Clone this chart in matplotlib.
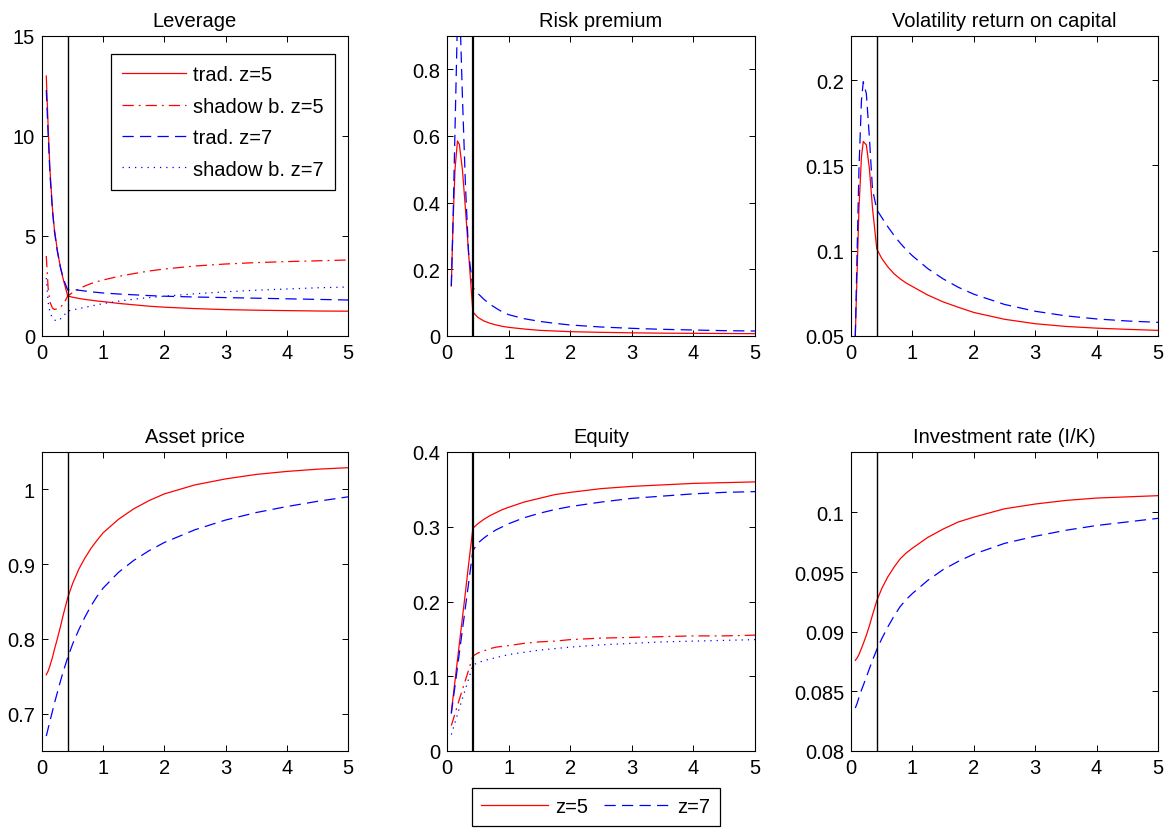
import matplotlib
matplotlib.use("Agg")
import matplotlib.pyplot as plt
from matplotlib.ticker import FuncFormatter

plt.rcParams["font.family"] = ["Liberation Sans", "DejaVu Sans"]
FS = 14.5
plt.rcParams["font.size"] = FS

# wealth share grid (common to all series)
x = [0.07, 0.1, 0.13, 0.17, 0.2, 0.25, 0.3, 0.35, 0.42, 0.5, 0.6, 0.7, 0.8, 0.9,
     1.0, 1.25, 1.5, 1.75, 2.0, 2.5, 3.0, 3.5, 4.0, 4.5, 5.0]
x_cut = 0.42

# Leverage
lev_trad5 = [13.0, 10.5, 8.3, 6.4, 5.4, 4.3, 3.45, 2.8, 2.0, 1.94, 1.88, 1.83, 1.79, 1.75,
             1.72, 1.63, 1.56, 1.49, 1.44, 1.37, 1.32, 1.29, 1.27, 1.25, 1.24]
lev_shadow5 = [4.0, 2.4, 1.7, 1.4, 1.33, 1.35, 1.45, 1.58, 2.0, 2.17, 2.35, 2.5, 2.62, 2.72,
               2.8, 2.98, 3.12, 3.25, 3.35, 3.5, 3.6, 3.67, 3.72, 3.76, 3.8]
lev_trad7 = [12.3, 10.1, 8.1, 6.3, 5.3, 4.25, 3.45, 2.85, 2.3, 2.33, 2.29, 2.25, 2.21, 2.18,
             2.15, 2.1, 2.06, 2.02, 1.99, 1.95, 1.92, 1.89, 1.86, 1.83, 1.8]
lev_shadow7 = [2.9, 1.7, 1.2, 0.9, 0.8, 0.75, 0.85, 1.0, 1.25, 1.3, 1.37, 1.43, 1.5, 1.56,
               1.62, 1.74, 1.84, 1.92, 1.99, 2.11, 2.21, 2.29, 2.35, 2.41, 2.45]

# Risk premium
rp_z5 = [0.15, 0.35, 0.50, 0.585, 0.575, 0.50, 0.38, 0.25, 0.072, 0.056, 0.045, 0.038, 0.033, 0.029,
         0.026, 0.021, 0.017, 0.015, 0.013, 0.011, 0.0095, 0.0085, 0.008, 0.0075, 0.007]
rp_z7 = [0.15, 0.36, 0.62, 0.95, 1.03, 0.72, 0.45, 0.25, 0.145, 0.128, 0.11, 0.095, 0.083, 0.072,
         0.064, 0.052, 0.044, 0.038, 0.033, 0.027, 0.023, 0.020, 0.018, 0.016, 0.015]

# Volatility of return on capital
vol_z5 = [0.05, 0.088, 0.125, 0.155, 0.164, 0.162, 0.148, 0.125, 0.101, 0.0955, 0.0905, 0.0865, 0.0835, 0.081,
          0.079, 0.074, 0.070, 0.0668, 0.0638, 0.0598, 0.0572, 0.0556, 0.0546, 0.0539, 0.0533]
vol_z7 = [0.05, 0.10, 0.148, 0.188, 0.199, 0.192, 0.166, 0.136, 0.124, 0.1195, 0.114, 0.109, 0.1045, 0.1005,
          0.097, 0.0895, 0.0835, 0.0785, 0.0745, 0.0685, 0.0645, 0.0618, 0.060, 0.0588, 0.058]

# Asset price
q_z5 = [0.752, 0.757, 0.764, 0.775, 0.785, 0.800, 0.816, 0.833, 0.855, 0.874, 0.893, 0.908, 0.921, 0.932,
        0.942, 0.960, 0.974, 0.985, 0.994, 1.006, 1.014, 1.020, 1.024, 1.027, 1.029]
q_z7 = [0.670, 0.680, 0.690, 0.703, 0.713, 0.728, 0.743, 0.757, 0.775, 0.793, 0.812, 0.829, 0.844, 0.857,
        0.868, 0.889, 0.905, 0.918, 0.929, 0.946, 0.959, 0.969, 0.977, 0.984, 0.990]

# Equity
eq_trad5 = [0.052, 0.073, 0.094, 0.122, 0.143, 0.178, 0.213, 0.249, 0.298, 0.304, 0.310, 0.315, 0.319, 0.323,
            0.326, 0.333, 0.338, 0.343, 0.346, 0.351, 0.354, 0.356, 0.358, 0.359, 0.360]
eq_shadow5 = [0.034, 0.042, 0.050, 0.061, 0.069, 0.082, 0.095, 0.108, 0.127, 0.131, 0.134, 0.137, 0.139, 0.140,
              0.141, 0.144, 0.146, 0.147, 0.149, 0.151, 0.152, 0.153, 0.154, 0.154, 0.155]
eq_trad7 = [0.050, 0.069, 0.087, 0.112, 0.131, 0.162, 0.193, 0.224, 0.268, 0.278, 0.285, 0.291, 0.296, 0.300,
            0.304, 0.312, 0.318, 0.323, 0.327, 0.333, 0.338, 0.341, 0.344, 0.346, 0.347]
eq_shadow7 = [0.022, 0.030, 0.038, 0.049, 0.057, 0.070, 0.083, 0.096, 0.115, 0.118, 0.121, 0.123, 0.125, 0.127,
              0.129, 0.132, 0.135, 0.137, 0.139, 0.142, 0.144, 0.146, 0.147, 0.148, 0.149]

# Investment rate
inv_z5 = [0.0876, 0.0878, 0.0881, 0.0886, 0.0890, 0.0897, 0.0905, 0.0914, 0.0926, 0.0936, 0.0946, 0.0954, 0.0961, 0.0966,
          0.0970, 0.0979, 0.0986, 0.0992, 0.0996, 0.1003, 0.1007, 0.1010, 0.1012, 0.1013, 0.1014]
inv_z7 = [0.0836, 0.0840, 0.0845, 0.0851, 0.0855, 0.0862, 0.0869, 0.0876, 0.0885, 0.0894, 0.0904, 0.0913, 0.0921, 0.0927,
          0.0932, 0.0943, 0.0952, 0.0959, 0.0965, 0.0974, 0.0980, 0.0985, 0.0989, 0.0992, 0.0995]

RED, BLUE = "#ff0000", "#0000ff"
LW = 0.9
SOLID = dict(color=RED, lw=LW, ls="-")
DASHDOT = dict(color=RED, lw=LW, ls=(0, (9, 4, 1.5, 4)))
DASHED = dict(color=BLUE, lw=LW, ls=(0, (9, 5)))
DOTTED = dict(color=BLUE, lw=LW, ls=(0, (1, 4)))

fig = plt.figure(figsize=(11.72, 8.29), dpi=100)
W, H = 1172, 829
cols = [(42, 348), (447, 755), (851, 1158)]
rows = [(37, 337), (453, 752)]


def make_ax(r, c, title):
    (x0, x1), (y0, y1) = cols[c], rows[r]
    ax = fig.add_axes([x0 / W, 1 - y1 / H, (x1 - x0) / W, (y1 - y0) / H])
    ax.set_xlim(0, 5)
    ax.set_xticks([0, 1, 2, 3, 4, 5])
    ax.tick_params(direction="in", top=True, right=True, length=4, width=0.7, pad=5)
    for s in ax.spines.values():
        s.set_linewidth(0.8)
    ax.set_title(title, fontsize=FS, pad=7)
    return ax


gfmt = FuncFormatter(lambda v, p: f"{v:g}")

# Leverage
ax = make_ax(0, 0, "Leverage")
ax.plot(x, lev_trad5, label="trad. z=5", **SOLID)
ax.plot(x, lev_shadow5, label="shadow b. z=5", **DASHDOT)
ax.plot(x, lev_trad7, label="trad. z=7", **DASHED)
ax.plot(x, lev_shadow7, label="shadow b. z=7", **DOTTED)
ax.axvline(x_cut, color="k", lw=1.0)
ax.set_ylim(0, 15)
ax.set_yticks([0, 5, 10, 15])
leg = ax.legend(loc="upper right", bbox_to_anchor=(0.957, 0.94), fancybox=False,
                edgecolor="k", framealpha=1, handlelength=3.2, borderpad=0.55,
                labelspacing=0.62, handletextpad=0.35, borderaxespad=0, fontsize=FS)
leg.get_frame().set_linewidth(0.9)

# Risk premium
ax = make_ax(0, 1, "Risk premium")
ax.plot(x, rp_z5, **SOLID)
ax.plot(x, rp_z7, **DASHED)
ax.axvline(x_cut, color="k", lw=1.6)
ax.set_ylim(0, 0.9)
ax.set_yticks([0, 0.2, 0.4, 0.6, 0.8])
ax.yaxis.set_major_formatter(gfmt)

# Volatility
ax = make_ax(0, 2, "Volatility return on capital")
ax.plot(x, vol_z5, **SOLID)
ax.plot(x, vol_z7, **DASHED)
ax.axvline(x_cut, color="k", lw=1.0)
ax.set_ylim(0.05, 0.2258)
ax.set_yticks([0.05, 0.1, 0.15, 0.2])
ax.yaxis.set_major_formatter(gfmt)

# Asset price
ax = make_ax(1, 0, "Asset price")
ax.plot(x, q_z5, **SOLID)
ax.plot(x, q_z7, **DASHED)
ax.axvline(x_cut, color="k", lw=1.0)
ax.set_ylim(0.65, 1.05)
ax.set_yticks([0.7, 0.8, 0.9, 1.0])
ax.yaxis.set_major_formatter(gfmt)

# Equity
ax = make_ax(1, 1, "Equity")
ax.plot(x, eq_trad5, **SOLID)
ax.plot(x, eq_shadow5, **DASHDOT)
ax.plot(x, eq_trad7, **DASHED)
ax.plot(x, eq_shadow7, **DOTTED)
ax.axvline(x_cut, color="k", lw=1.6)
ax.set_ylim(0, 0.4)
ax.set_yticks([0, 0.1, 0.2, 0.3, 0.4])
ax.yaxis.set_major_formatter(gfmt)

# Investment rate
ax = make_ax(1, 2, "Investment rate (I/K)")
ax.plot(x, inv_z5, **SOLID)
ax.plot(x, inv_z7, **DASHED)
ax.axvline(x_cut, color="k", lw=1.0)
ax.set_ylim(0.08, 0.10506)
ax.set_yticks([0.08, 0.085, 0.09, 0.095, 0.1])
ax.yaxis.set_major_formatter(gfmt)

# shared legend under the bottom row
h5, = plt.plot([], [], **SOLID)
h7, = plt.plot([], [], **DASHED)
bleg = fig.legend([h5, h7], ["z=5", "z=7"], loc="center", bbox_to_anchor=(596 / W, 1 - 808 / H),
                  ncol=2, fancybox=False, edgecolor="k", framealpha=1, handlelength=3.3,
                  columnspacing=0.8, handletextpad=0.35, borderpad=0.45, fontsize=FS)
bleg.get_frame().set_linewidth(0.9)

fig.savefig("out.png", dpi=100)
